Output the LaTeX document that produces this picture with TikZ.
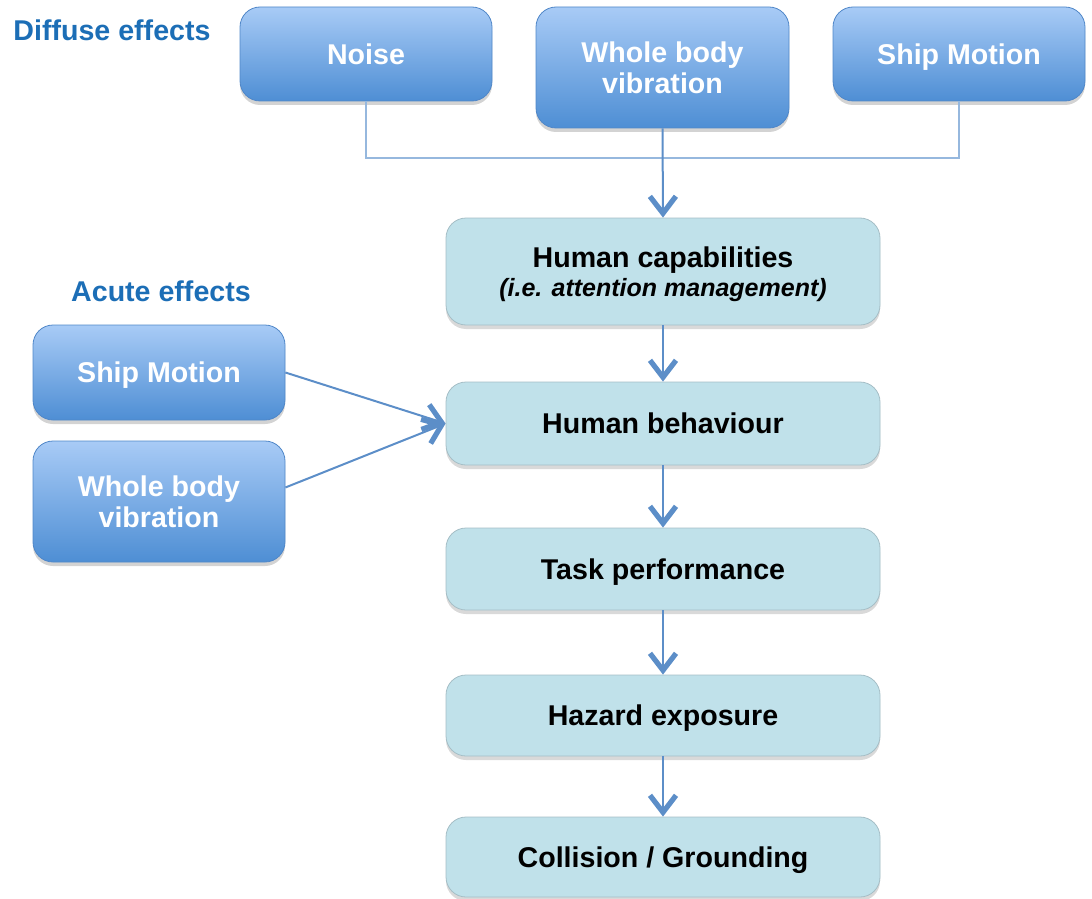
\documentclass[tikz,border=0pt]{standalone}
\usepackage{fontspec}
\setmainfont{Liberation Sans}
\usetikzlibrary{arrows.meta,shadows,calc}
\definecolor{hdr}{RGB}{28,110,182}
\definecolor{bluetop}{RGB}{168,203,246}
\definecolor{bluebot}{RGB}{78,142,212}
\definecolor{blueedge}{RGB}{80,135,200}
\definecolor{cyanfill}{RGB}{192,225,234}
\definecolor{cyanedge}{RGB}{165,190,198}
\definecolor{arr}{RGB}{92,142,200}
\definecolor{conn}{RGB}{150,184,222}
\tikzset{
  bluebox/.style={rectangle, rounded corners=10pt, top color=bluetop, bottom color=bluebot,
    draw=blueedge, line width=0.4pt, text=white, font=\bfseries\fontsize{14.3}{15.2}\selectfont,
    align=center, minimum width=126pt, inner sep=0pt, text depth=0pt,
    drop shadow={shadow xshift=0pt, shadow yshift=-2pt, opacity=0.35}},
  cyanbox/.style={rectangle, rounded corners=10pt, fill=cyanfill, draw=cyanedge, line width=0.4pt,
    text=black, font=\bfseries\fontsize{14.3}{15.2}\selectfont, align=center,
    minimum width=217pt, inner sep=0pt, text depth=0pt,
    drop shadow={shadow xshift=0pt, shadow yshift=-2pt, opacity=0.3}},
  hdrtext/.style={text=hdr, font=\bfseries\fontsize{14.3}{15}\selectfont, inner sep=0pt},
  flow/.style={draw=arr, line width=1pt, -{Straight Barb[length=8.5pt,width=13pt,line width=2.6pt]}},
  linkline/.style={draw=conn, line width=1.4pt},
}
\begin{document}
\begin{tikzpicture}[x=0.5pt,y=-0.5pt]
\useasboundingbox (0,0) rectangle (1092,899);
\node[hdrtext] (dif) at (112,30) {Diffuse effects};
\node[hdrtext] (acu) at (161,291) {Acute effects};
\node[bluebox, minimum height=47pt] (noise) at (366,54) {Noise};
\node[bluebox, minimum height=60.5pt, minimum width=126.5pt] (wbvT) at (662.5,67.5) {Whole body\\vibration};
\node[bluebox, minimum height=47pt] (shipT) at (959,54) {Ship Motion};
\node[bluebox, minimum height=47.5pt] (shipL) at (159,372.5) {Ship Motion};
\node[bluebox, minimum height=60.5pt] (wbvL) at (159,501.5) {Whole body\\vibration};
\node[cyanbox, minimum height=53.5pt] (cap) at (663,271.5) {Human capabilities\\[-1pt]{\itshape\fontsize{12.5}{14}\selectfont (i.e. attention management)}};
\node[cyanbox, minimum height=41.5pt] (beh) at (663,423.5) {Human behaviour};
\node[cyanbox, minimum height=41pt] (task) at (663,569) {Task performance};
\node[cyanbox, minimum height=40.5pt] (haz) at (663,715.5) {Hazard exposure};
\node[cyanbox, minimum height=40pt] (col) at (663,857) {Collision / Grounding};
\coordinate (j) at (662,158);
\draw[linkline] (noise.south) |- (j) -| (shipT.south);
\draw[flow] (wbvT.south) -- (cap.north);
\draw[flow] (cap.south) -- (beh.north);
\draw[flow] (beh.south) -- (task.north);
\draw[flow] (task.south) -- (haz.north);
\draw[flow] (haz.south) -- (col.north);
\draw[flow] (shipL.east) -- (beh.west);
\draw[flow] ($(wbvL.east)+(0,-14)$) -- (beh.west);
\end{tikzpicture}
\end{document}
